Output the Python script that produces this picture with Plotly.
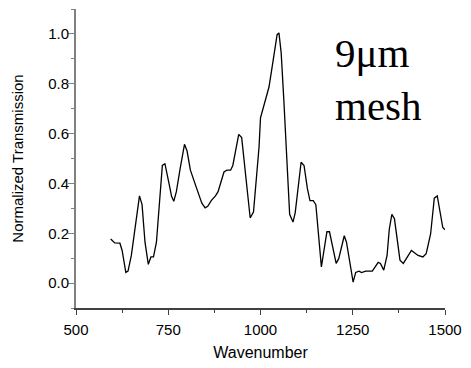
import plotly.graph_objects as go

wavenumber = [594, 605, 619, 625, 635, 641, 650, 663, 672, 679, 687, 696, 703, 710, 718,
              734, 741, 752, 759, 765, 772, 783, 792, 794, 801, 810, 827, 841, 850, 857,
              867, 878, 885, 901, 909, 919, 925, 941, 949, 956, 972, 981, 996, 1000, 1010,
              1023, 1032, 1043, 1045, 1050, 1056, 1063, 1072, 1079, 1088, 1094, 1110, 1118,
              1127, 1134, 1143, 1150, 1165, 1180, 1187, 1205, 1212, 1227, 1233, 1251, 1258,
              1267, 1274, 1285, 1303, 1319, 1325, 1334, 1343, 1349, 1356, 1363, 1378, 1387,
              1409, 1427, 1440, 1449, 1461, 1471, 1479, 1494, 1500]
transmission = [0.177, 0.161, 0.160, 0.131, 0.043, 0.048, 0.111, 0.256, 0.350, 0.315, 0.164,
                0.075, 0.105, 0.105, 0.164, 0.472, 0.479, 0.400, 0.348, 0.328, 0.367, 0.466,
                0.545, 0.557, 0.530, 0.453, 0.380, 0.321, 0.302, 0.308, 0.332, 0.350, 0.367,
                0.446, 0.453, 0.453, 0.472, 0.597, 0.584, 0.479, 0.262, 0.285, 0.545, 0.663,
                0.715, 0.787, 0.872, 0.991, 0.997, 1.004, 0.925, 0.741, 0.479, 0.276, 0.245,
                0.282, 0.485, 0.472, 0.380, 0.331, 0.331, 0.315, 0.065, 0.206, 0.206, 0.079,
                0.098, 0.190, 0.164, 0.004, 0.043, 0.048, 0.042, 0.048, 0.048, 0.083, 0.079,
                0.052, 0.111, 0.216, 0.276, 0.258, 0.092, 0.079, 0.131, 0.111, 0.105, 0.118,
                0.197, 0.341, 0.350, 0.223, 0.214]

x_ticks = [500, 750, 1000, 1250, 1500]
y_ticks = [0.0, 0.2, 0.4, 0.6, 0.8, 1.0]

fig = go.Figure()
fig.add_trace(go.Scatter(x=wavenumber, y=transmission, mode="lines",
                         line=dict(color="black", width=1.3), showlegend=False))

x_color = "#404040"
y_color = "#808080"
font_family = "Liberation Sans, Arial"
fig.update_xaxes(range=[500, 1500], tickvals=x_ticks, ticktext=[str(v) for v in x_ticks],
                 showgrid=False, zeroline=False, showline=True, linecolor=x_color, linewidth=1.5,
                 ticks="outside", ticklen=5, tickcolor=x_color, tickwidth=1.3,
                 minor=dict(dtick=125, tick0=500, ticks="outside", ticklen=3, tickcolor=x_color, tickwidth=1.3),
                 tickfont=dict(family=font_family, size=15, color="black"),
                 ticklabelstandoff=2,
                 title=dict(text="Wavenumber", font=dict(family=font_family, size=16, color="black"), standoff=10))
fig.update_yaxes(range=[-0.1, 1.1], tickvals=y_ticks, ticktext=[f"{v:.1f}" for v in y_ticks],
                 showgrid=False, zeroline=False, showline=True, linecolor=y_color, linewidth=2,
                 ticks="outside", ticklen=6, tickcolor=y_color, tickwidth=1.3,
                 minor=dict(dtick=0.1, tick0=-0.1, ticks="outside", ticklen=3, tickcolor=y_color, tickwidth=1.3),
                 tickfont=dict(family=font_family, size=15, color="black"),
                 ticklabelstandoff=-4,
                 title=dict(text="Normalized Transmission", font=dict(family=font_family, size=15, color="black"), standoff=21))

fig.add_annotation(text="9\u03bcm<br>mesh", xref="paper", yref="paper", x=0.696, y=0.935,
                   xanchor="left", yanchor="top", align="left", showarrow=False,
                   font=dict(family="Liberation Serif, Times New Roman", size=41, color="black"))

fig.update_layout(width=471, height=368, margin=dict(l=76, r=20, t=9, b=55),
                  plot_bgcolor="white", paper_bgcolor="white")

fig.write_html("out.html")
